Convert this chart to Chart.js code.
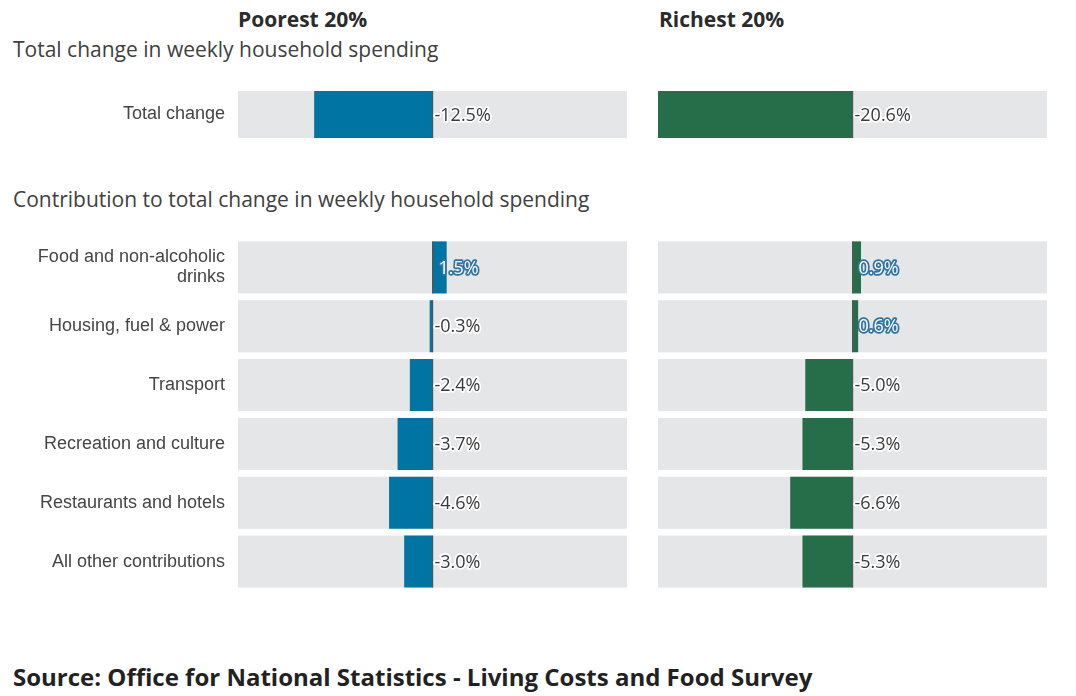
<!DOCTYPE html>
<html><head><meta charset="utf-8">
<script src="https://cdn.jsdelivr.net/npm/chart.js@4/dist/chart.umd.min.js"></script>
<style>
html,body{margin:0;padding:0;background:#fff;width:1076px;height:696px;overflow:hidden;position:relative;font-family:"Open Sans",sans-serif;}
.t{position:absolute;white-space:nowrap;}
canvas{position:absolute;}
</style></head><body>
<div class="t" style="left:238px;top:5px;font-size:21px;font-weight:700;color:#2b2b2b;">Poorest 20%</div>
<div class="t" style="left:659px;top:5px;font-size:21px;font-weight:700;color:#2b2b2b;">Richest 20%</div>
<div class="t" style="left:13px;top:35px;font-size:21px;color:#404040;">Total change in weekly household spending</div>
<div class="t" style="left:13px;top:185px;font-size:21px;color:#404040;">Contribution to total change in weekly household spending</div>
<div class="t" style="left:13px;top:660px;font-size:24px;font-weight:700;color:#222;">Source: Office for National Statistics - Living Costs and Food Survey</div>
<canvas id="tl" width="627" height="47" style="left:0;top:91px;"></canvas>
<canvas id="tr" width="389" height="47" style="left:658px;top:91px;"></canvas>
<canvas id="bl" width="627" height="353" style="left:0;top:238px;"></canvas>
<canvas id="br" width="389" height="353" style="left:658px;top:238px;"></canvas>
<script>
const totalCategories = ["Total change"];
const totalPoorest = [-12.5];
const totalRichest = [-20.6];
const categories = [["Food and non-alcoholic","drinks"],"Housing, fuel & power","Transport","Recreation and culture","Restaurants and hotels","All other contributions"];
const poorest = [1.5, -0.3, -2.4, -3.7, -4.6, -3.0];
const richest = [0.9, 0.6, -5.0, -5.3, -6.6, -5.3];
const axisMin = -20.6, axisMax = 20.6;

const BLUE = "#0074a2", GREEN = "#266e4a", BAND = "#e5e6e8";

const bandPlugin = {
  id: "bands",
  beforeDatasetsDraw(chart) {
    const {ctx, chartArea} = chart;
    const meta = chart.getDatasetMeta(0);
    ctx.save();
    meta.data.forEach(bar => {
      const h = bar.height;
      ctx.fillStyle = BAND;
      ctx.fillRect(chartArea.left, bar.y - h/2, chartArea.right - chartArea.left, h);
    });
    ctx.restore();
  },
  afterDatasetsDraw(chart) {
    const {ctx, scales} = chart;
    const meta = chart.getDatasetMeta(0);
    const data = chart.data.datasets[0].data;
    const x0 = scales.x.getPixelForValue(0);
    ctx.save();
    meta.data.forEach((bar, i) => {
      const h = bar.height;
      ctx.fillStyle = "#555";
      ctx.fillRect(Math.round(x0) - 1, bar.y - h/2, 1.2, h);
      const v = data[i];
      const txt = v.toFixed(1) + "%";
      ctx.font = "18px 'Open Sans'";
      ctx.textBaseline = "middle";
      ctx.textAlign = "left";
      ctx.lineJoin = "round";
      const tx = v >= 0 ? x0 + 6 : x0 + 2;
      ctx.lineWidth = 3.5;
      if (v >= 0) {
        ctx.strokeStyle = "#2f74a3";
        ctx.strokeText(txt, tx, bar.y + 1);
        ctx.fillStyle = "#fff";
      } else {
        ctx.strokeStyle = "#fff";
        ctx.strokeText(txt, tx, bar.y + 1);
        ctx.fillStyle = "#3a3a3a";
      }
      ctx.fillText(txt, tx, bar.y + 1);
    });
    ctx.restore();
  }
};

function make(id, labels, values, color, showLabels, catPct) {
  return new Chart(document.getElementById(id), {
    type: "bar",
    data: { labels: labels, datasets: [{ data: values, backgroundColor: color, borderWidth: 0,
      barPercentage: 1, categoryPercentage: catPct }] },
    options: {
      indexAxis: "y",
      responsive: false, animation: false, devicePixelRatio: 1,
      layout: { padding: 0 },
      plugins: { legend: { display: false }, tooltip: { enabled: false } },
      scales: {
        x: { display: false, min: axisMin, max: axisMax },
        y: {
          display: showLabels,
          grid: { display: false, drawTicks: false },
          border: { display: false },
          ticks: { padding: 13, color: "#454545", font: { family: "'Liberation Sans', Arial, sans-serif", size: 18, lineHeight: 1.1 } },
          afterFit(scale) {
            if (showLabels) scale.width = 238; else scale.width = 0;
            scale.paddingTop = 0; scale.paddingBottom = 0;
          }
        }
      }
    },
    plugins: [bandPlugin]
  });
}
make("tl", totalCategories, totalPoorest, BLUE, true, 1);
make("tr", totalCategories, totalRichest, GREEN, false, 1);
make("bl", categories, poorest, BLUE, true, 52/58.8);
make("br", categories, richest, GREEN, false, 52/58.8);
</script>
</body></html>
